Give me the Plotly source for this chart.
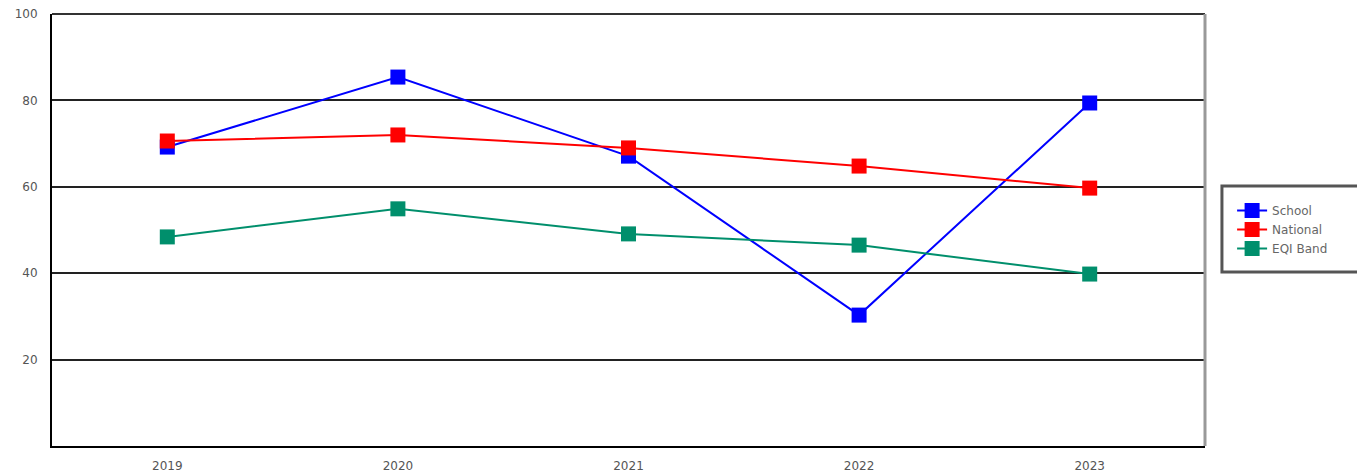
import plotly.graph_objects as go

years = ["2019", "2020", "2021", "2022", "2023"]
school = [69.2, 85.4, 67.1, 30.3, 79.4]
national = [70.6, 72.0, 69.0, 64.8, 59.7]
eqi_band = [48.4, 54.9, 49.1, 46.5, 39.8]

series = [
    ("School", school, "#0000ff"),
    ("National", national, "#ff0000"),
    ("EQI Band", eqi_band, "#008f6c"),
]

fig = go.Figure()
for name, vals, col in series:
    fig.add_trace(go.Scatter(
        x=years, y=vals, name=name, mode="lines+markers",
        line=dict(color=col, width=2),
        marker=dict(symbol="square", size=15, color=col,
                    line=dict(color=col, width=0)),
    ))

# legend frame (open to the right, running off the page edge like the reference)
lx0, lx1, ly0, ly1 = 1.0147, 1.25, 0.4028, 0.6019
frame_path = f"M {lx1},{ly1} L {lx0},{ly1} L {lx0},{ly0} L {lx1},{ly0}"

fig.update_layout(
    width=1357, height=468,
    margin=dict(l=44, r=160, t=6, b=30),
    paper_bgcolor="white", plot_bgcolor="white",
    font=dict(family="DejaVu Sans, Verdana, sans-serif", size=12, color="#555"),
    showlegend=True,
    legend=dict(x=1.0235, y=0.5787, xanchor="left", yanchor="top",
                borderwidth=0, bgcolor="rgba(0,0,0,0)",
                font=dict(size=12, color="#666"), tracegroupgap=0,
                itemsizing="trace"),
    xaxis=dict(type="category", range=[-0.5, 4.5], showgrid=False,
               showline=True, linecolor="black", linewidth=2,
               ticks="", ticklabelstandoff=8, zeroline=False, automargin=False,
               ticklabeloverflow="allow"),
    yaxis=dict(range=[0, 100], tickvals=[20, 40, 60, 80, 100],
               showgrid=True, gridcolor="#222", gridwidth=2,
               showline=True, linecolor="black", linewidth=2,
               ticks="", ticklabelstandoff=10, zeroline=False, automargin=False,
               ticklabeloverflow="allow"),
    shapes=[
        dict(type="line", xref="x domain", yref="y domain", x0=0, x1=1, y0=1, y1=1,
             line=dict(color="#333", width=2)),
        dict(type="line", xref="x domain", yref="y domain", x0=1, x1=1, y0=0, y1=1,
             line=dict(color="#999", width=3)),
        dict(type="path", xref="paper", yref="paper", path=frame_path,
             line=dict(color="#555", width=3), layer="below"),
    ],
)

fig.write_html("out.html")
